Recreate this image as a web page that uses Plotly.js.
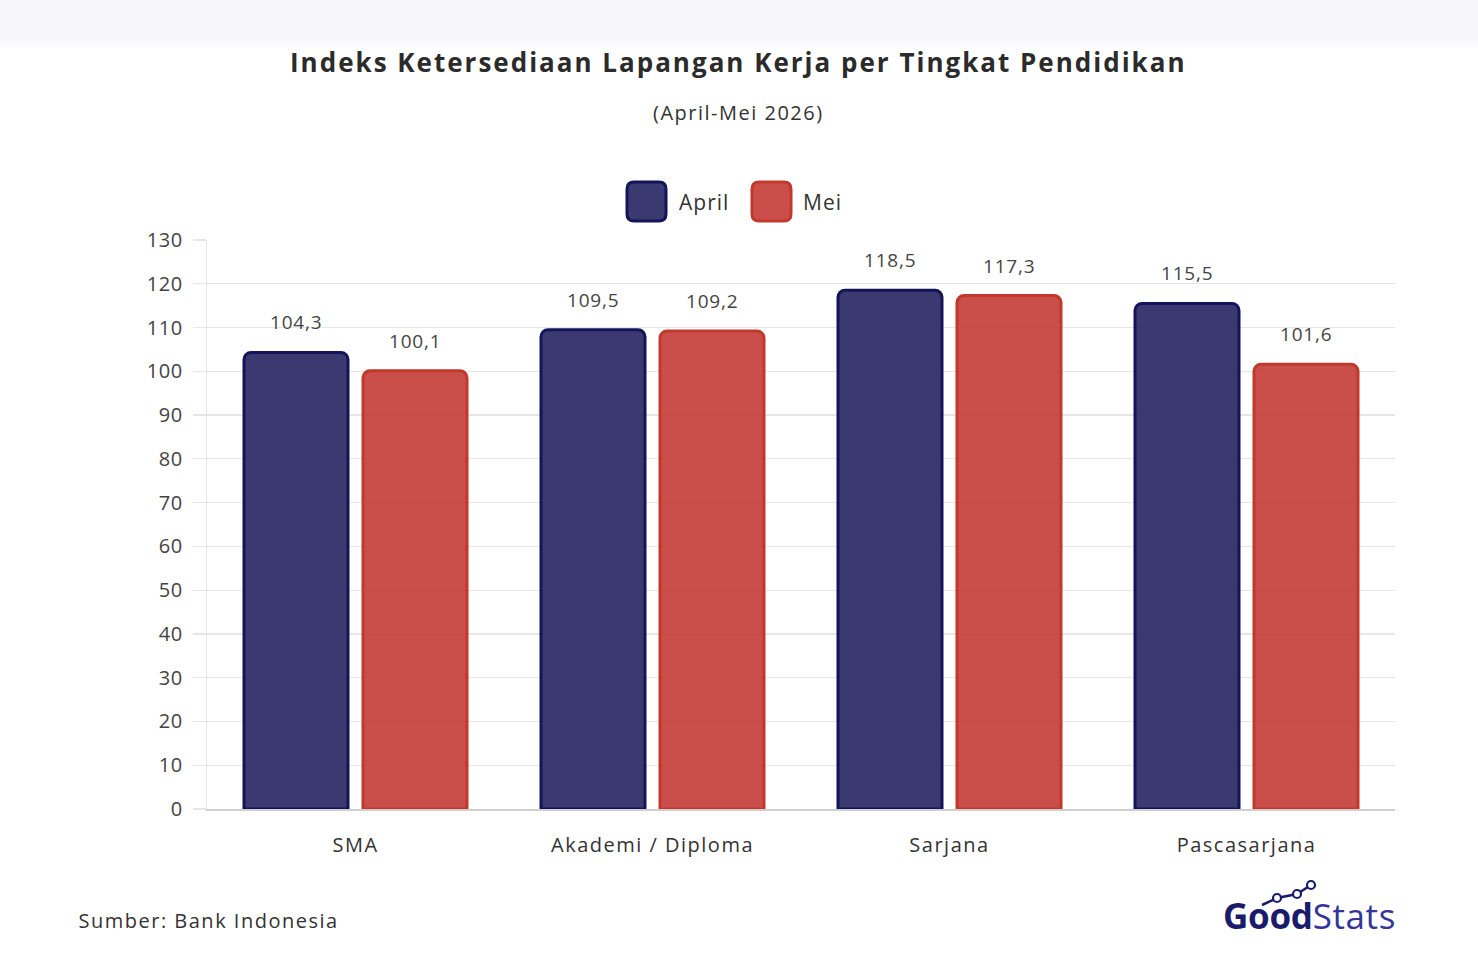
<!DOCTYPE html>
<html>
<head>
<meta charset="utf-8">
<script src="https://cdn.plot.ly/plotly-3.0.1.min.js"></script>
<style>
  html, body { margin: 0; padding: 0; background: #ffffff; }
  #chart { width: 1478px; height: 968px; }
  /* wider tracking for the geometric look of the labels */
  #chart .main-svg text { letter-spacing: 1.5px; }
  #chart .ytick text { letter-spacing: 0.6px; }
</style>
</head>
<body>
<div id="chart"></div>
<script>
// Job availability index by education level, April vs May 2026
const categories = ['SMA', 'Akademi / Diploma', 'Sarjana', 'Pascasarjana'];
const seriesNames = ['April', 'Mei'];
const aprilValues = [104.3, 109.5, 118.5, 115.5];
const meiValues = [100.1, 109.2, 117.3, 101.6];
const yTicks = [0, 10, 20, 30, 40, 50, 60, 70, 80, 90, 100, 110, 120, 130];

const W = 1478, H = 968;
const M = { l: 207, r: 83, t: 240, b: 159 };
const plotW = W - M.l - M.r, plotH = H - M.t - M.b;
// pixel -> paper coordinate helpers
const px = x => (x - M.l) / plotW;
const py = y => (H - M.b - y) / plotH;

const FONT = '"Open Sans", "Noto Sans", sans-serif';
const navyFill = 'rgba(42,41,100,0.92)', navyLine = '#14145a';
const redFill = 'rgba(196,60,54,0.9)', redLine = '#c0392b';

function fmt(v) { return v.toFixed(1).replace('.', ','); }

function roundRect(x0, y0, x1, y1, r) {
  // rectangle with rounded corners, given in pixels, returned in paper coords
  const p = (x, y) => px(x) + ',' + py(y);
  return 'M' + p(x0 + r, y0) + ' L' + p(x1 - r, y0) + ' Q' + p(x1, y0) + ' ' + p(x1, y0 + r) +
    ' L' + p(x1, y1 - r) + ' Q' + p(x1, y1) + ' ' + p(x1 - r, y1) +
    ' L' + p(x0 + r, y1) + ' Q' + p(x0, y1) + ' ' + p(x0, y1 - r) +
    ' L' + p(x0, y0 + r) + ' Q' + p(x0, y0) + ' ' + p(x0 + r, y0) + ' Z';
}

const traces = [
  {
    type: 'bar', name: seriesNames[0], x: categories, y: aprilValues,
    marker: { color: navyFill, line: { color: navyLine, width: 3 }, cornerradius: 7 },
    hoverinfo: 'x+y', showlegend: false
  },
  {
    type: 'bar', name: seriesNames[1], x: categories, y: meiValues,
    marker: { color: redFill, line: { color: redLine, width: 3 }, cornerradius: 7 },
    hoverinfo: 'x+y', showlegend: false
  }
];

const annotations = [];
const barShift = 59.5;
[aprilValues, meiValues].forEach((vals, si) => {
  vals.forEach((v, i) => {
    annotations.push({
      x: categories[i], y: v, xref: 'x', yref: 'y',
      xshift: si === 0 ? -barShift : barShift, yshift: 15,
      yanchor: 'bottom', showarrow: false,
      text: '<span style="letter-spacing:0.8px">' + fmt(v) + '</span>',
      font: { family: FONT, size: 19, color: '#444' }
    });
  });
});

// title and subtitle
annotations.push({
  xref: 'paper', yref: 'paper', x: px(738), y: py(62), showarrow: false,
  text: '<b style="letter-spacing:2px">Indeks Ketersediaan Lapangan Kerja per Tingkat Pendidikan</b>',
  font: { family: FONT, size: 26, color: '#2b2b2b' }, xanchor: 'center', yanchor: 'middle'
});
annotations.push({
  xref: 'paper', yref: 'paper', x: px(738), y: py(113), showarrow: false,
  text: '(April-Mei 2026)',
  font: { family: FONT, size: 20, color: '#333' }, xanchor: 'center', yanchor: 'middle'
});

// legend
const legendItems = [
  { name: seriesNames[0], x0: 627, fill: navyFill, line: navyLine, tx: 677 },
  { name: seriesNames[1], x0: 752, fill: redFill, line: redLine, tx: 801 }
];
const shapes = [];
legendItems.forEach(it => {
  shapes.push({
    type: 'path', xref: 'paper', yref: 'paper',
    path: roundRect(it.x0, 182, it.x0 + 39, 221, 7),
    fillcolor: it.fill, line: { color: it.line, width: 3 }
  });
  annotations.push({
    xref: 'paper', yref: 'paper', x: px(it.tx), y: py(202), showarrow: false,
    text: '<span style="letter-spacing:1px">' + it.name + '</span>', xanchor: 'left', yanchor: 'middle',
    font: { family: FONT, size: 21, color: '#333' }
  });
});

// source
annotations.push({
  xref: 'paper', yref: 'paper', x: px(93), y: py(920), showarrow: false,
  text: 'Sumber: Bank Indonesia', xanchor: 'left', yanchor: 'middle',
  font: { family: FONT, size: 20, color: '#333' }
});

// GoodStats wordmark
annotations.push({
  xref: 'paper', yref: 'paper', x: px(1398), y: py(915), showarrow: false,
  text: '<b style="color:#1b1b6b;letter-spacing:-0.3px">Good</b><span style="color:#34349a;letter-spacing:0.6px">Stats</span>',
  xanchor: 'right', yanchor: 'middle',
  font: { family: FONT, size: 35, color: '#1b1b6b' }
});
const logoPts = [[1262, 905], [1277, 898], [1297, 894], [1311, 885]];
shapes.push({
  type: 'path', xref: 'paper', yref: 'paper',
  path: 'M' + logoPts.map(p => px(p[0]) + ',' + py(p[1])).join(' L'),
  line: { color: '#1b1b6b', width: 2.5 }
});
logoPts.slice(1).forEach(p => {
  shapes.push({
    type: 'circle', xref: 'paper', yref: 'paper',
    x0: px(p[0] - 4), x1: px(p[0] + 4), y0: py(p[1] + 4), y1: py(p[1] - 4),
    fillcolor: '#ffffff', line: { color: '#1b1b6b', width: 2.2 }
  });
});

// pale band along the top edge, fading out downward
[[0, 40, '#f7f7f9'], [40, 44, '#f9f9fb'], [44, 48, '#fcfcfd']].forEach(b => {
  shapes.push({
    type: 'rect', xref: 'paper', yref: 'paper', layer: 'below',
    x0: px(0), x1: px(W), y0: py(b[1]), y1: py(b[0]),
    fillcolor: b[2], line: { width: 0 }
  });
});

const layout = {
  width: W, height: H,
  margin: { l: M.l, r: M.r, t: M.t, b: M.b, pad: 0 },
  paper_bgcolor: '#ffffff', plot_bgcolor: '#ffffff',
  font: { family: FONT, color: '#444' },
  barmode: 'group', bargap: 0.1987, bargroupgap: 0.126,
  showlegend: false,
  xaxis: {
    type: 'category', showgrid: false, showline: true, linecolor: '#cfcfcf', linewidth: 1.5,
    ticks: '', tickfont: { family: FONT, size: 20, color: '#333' }, ticklabelstandoff: 17,
    fixedrange: true, zeroline: false
  },
  yaxis: {
    range: [0, 130], tickvals: yTicks, ticktext: yTicks.map(String),
    showgrid: true, gridcolor: '#e6e6e6', gridwidth: 1.2,
    showline: true, linecolor: '#e6e6e6', linewidth: 1.2,
    ticks: 'outside', ticklen: 13, tickcolor: '#e6e6e6', tickwidth: 1.2,
    tickfont: { family: FONT, size: 20, color: '#444' }, ticklabelstandoff: 6,
    zeroline: false, fixedrange: true
  },
  annotations: annotations,
  shapes: shapes
};

Plotly.newPlot('chart', traces, layout, { displayModeBar: false, staticPlot: true });
</script>
</body>
</html>
